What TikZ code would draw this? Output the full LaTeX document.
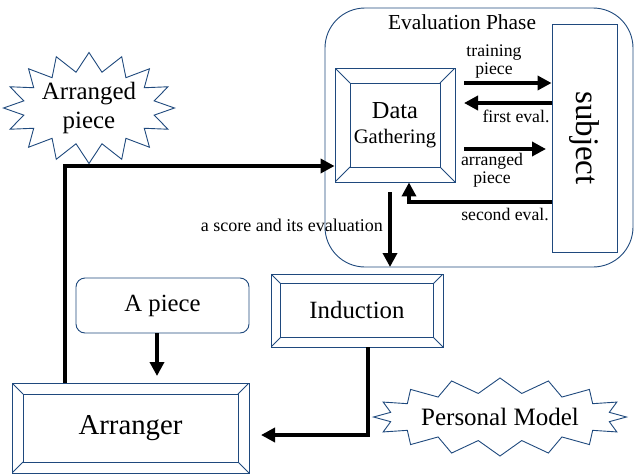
\documentclass[tikz,border=0pt]{standalone}
\usepackage{fontspec}
\setmainfont{Liberation Serif}
\usetikzlibrary{arrows.meta,shapes.symbols,calc}
\definecolor{navy}{RGB}{31,73,125}
\newcommand{\fs}[1]{\fontsize{#1}{#1}\selectfont}
\tikzset{
  arr/.style={line width=3.5pt,-{Triangle[length=14pt,width=14pt]}},
  bevelbox/.style={draw=navy,line width=0.9pt,rectangle,inner sep=0pt,
    path picture={
      \draw[navy,line width=0.9pt]
        ([shift={(#1,-#1)}]path picture bounding box.north west) rectangle
        ([shift={(-#1,#1)}]path picture bounding box.south east);
      \draw[navy,line width=0.9pt]
        (path picture bounding box.north west) -- ([shift={(#1,-#1)}]path picture bounding box.north west)
        (path picture bounding box.north east) -- ([shift={(-#1,-#1)}]path picture bounding box.north east)
        (path picture bounding box.south west) -- ([shift={(#1,#1)}]path picture bounding box.south west)
        (path picture bounding box.south east) -- ([shift={(-#1,#1)}]path picture bounding box.south east);
    }},
  burst/.style={starburst,draw=navy,line width=0.9pt,random starburst=0,starburst points=16,
    starburst point height=15pt,align=center,inner sep=0pt},
  lbl/.style={font=\fontsize{17.7}{18}\selectfont,align=center,inner sep=0pt},
}
\begin{document}
\begin{tikzpicture}[x=1pt,y=-1pt]
\useasboundingbox (0,0) rectangle (634,474);
% evaluation phase
\node[draw=navy,line width=0.9pt,rounded corners=40pt,minimum width=308pt,minimum height=259pt,inner sep=0pt] (ev) at (479,137.5) {};
\node[font=\fs{21.4},inner sep=0pt] (evl) at (462,22) {Evaluation Phase};
\node[draw=navy,line width=0.9pt,minimum width=65pt,minimum height=228pt,inner sep=0pt] (subj) at (584.5,138) {};
\node[font=\fs{33},rotate=-90,inner sep=0pt] (subjl) at (584.5,138) {subject};
\node[bevelbox=15pt,minimum width=120pt,minimum height=114pt,align=center] (dg) at (395,125)
  {{\fs{24.4}Data}\\[10pt]{\fs{20.6}Gathering}};
% other boxes
\node[bevelbox=11pt,minimum width=237pt,minimum height=90pt,font=\fs{28.8}] (ar) at (130.5,428) {Arranger};
\node[bevelbox=9.5pt,minimum width=172pt,minimum height=73pt,font=\fs{24.8}] (ind) at (357,310.5) {Induction};
\node[draw=navy,line width=0.9pt,rounded corners=9pt,minimum width=173pt,minimum height=55pt,font=\fs{24.7},inner sep=0pt] (ap) at (162.5,305.5) {A piece};
\node[burst,starburst point height=19pt,minimum width=165pt,minimum height=104pt,font=\fontsize{24.9}{29}\selectfont] (arp) at (89,108) {Arranged\\piece};
\node[burst,minimum width=245pt,minimum height=78pt,font=\fs{25}] (pm) at (500,417) {Personal Model};
% connectors
\coordinate (c1) at (65,166);
\draw[arr] (c1 |- ar.north) -- (c1) -- (c1 -| dg.west);
\coordinate (c2) at (157,333);
\draw[arr] (c2) -- (157,376);
\coordinate (c3) at (390,192);
\coordinate (c4) at (390,267);
\draw[arr] (c3) -- (c4);
\node[lbl,anchor=east,font=\fs{18}] (score) at (383,225) {a score and its evaluation};
\coordinate (c5) at (368,435);
\draw[arr] (c5 |- ind.south) -- (c5) -- (261,435);
\coordinate (t1) at (464,83);
\draw[arr] (t1) -- (t1 -| subj.west);
\coordinate (t2) at (464,103);
\draw[arr] (t2 -| subj.west) -- (t2);
\coordinate (t3) at (464,149);
\draw[arr] (t3) -- (546,149);
\coordinate (t4) at (409,202);
\draw[arr] (t4 -| subj.west) -- (t4) -- (t4 |- dg.south);
\node[lbl] (l1) at (494,62) {training\\piece};
\node[lbl] (l2) at (516,116) {first eval.};
\node[lbl] (l3) at (492,170) {arranged\\piece};
\node[lbl] (l4) at (505,214) {second eval.};
\end{tikzpicture}
\end{document}
